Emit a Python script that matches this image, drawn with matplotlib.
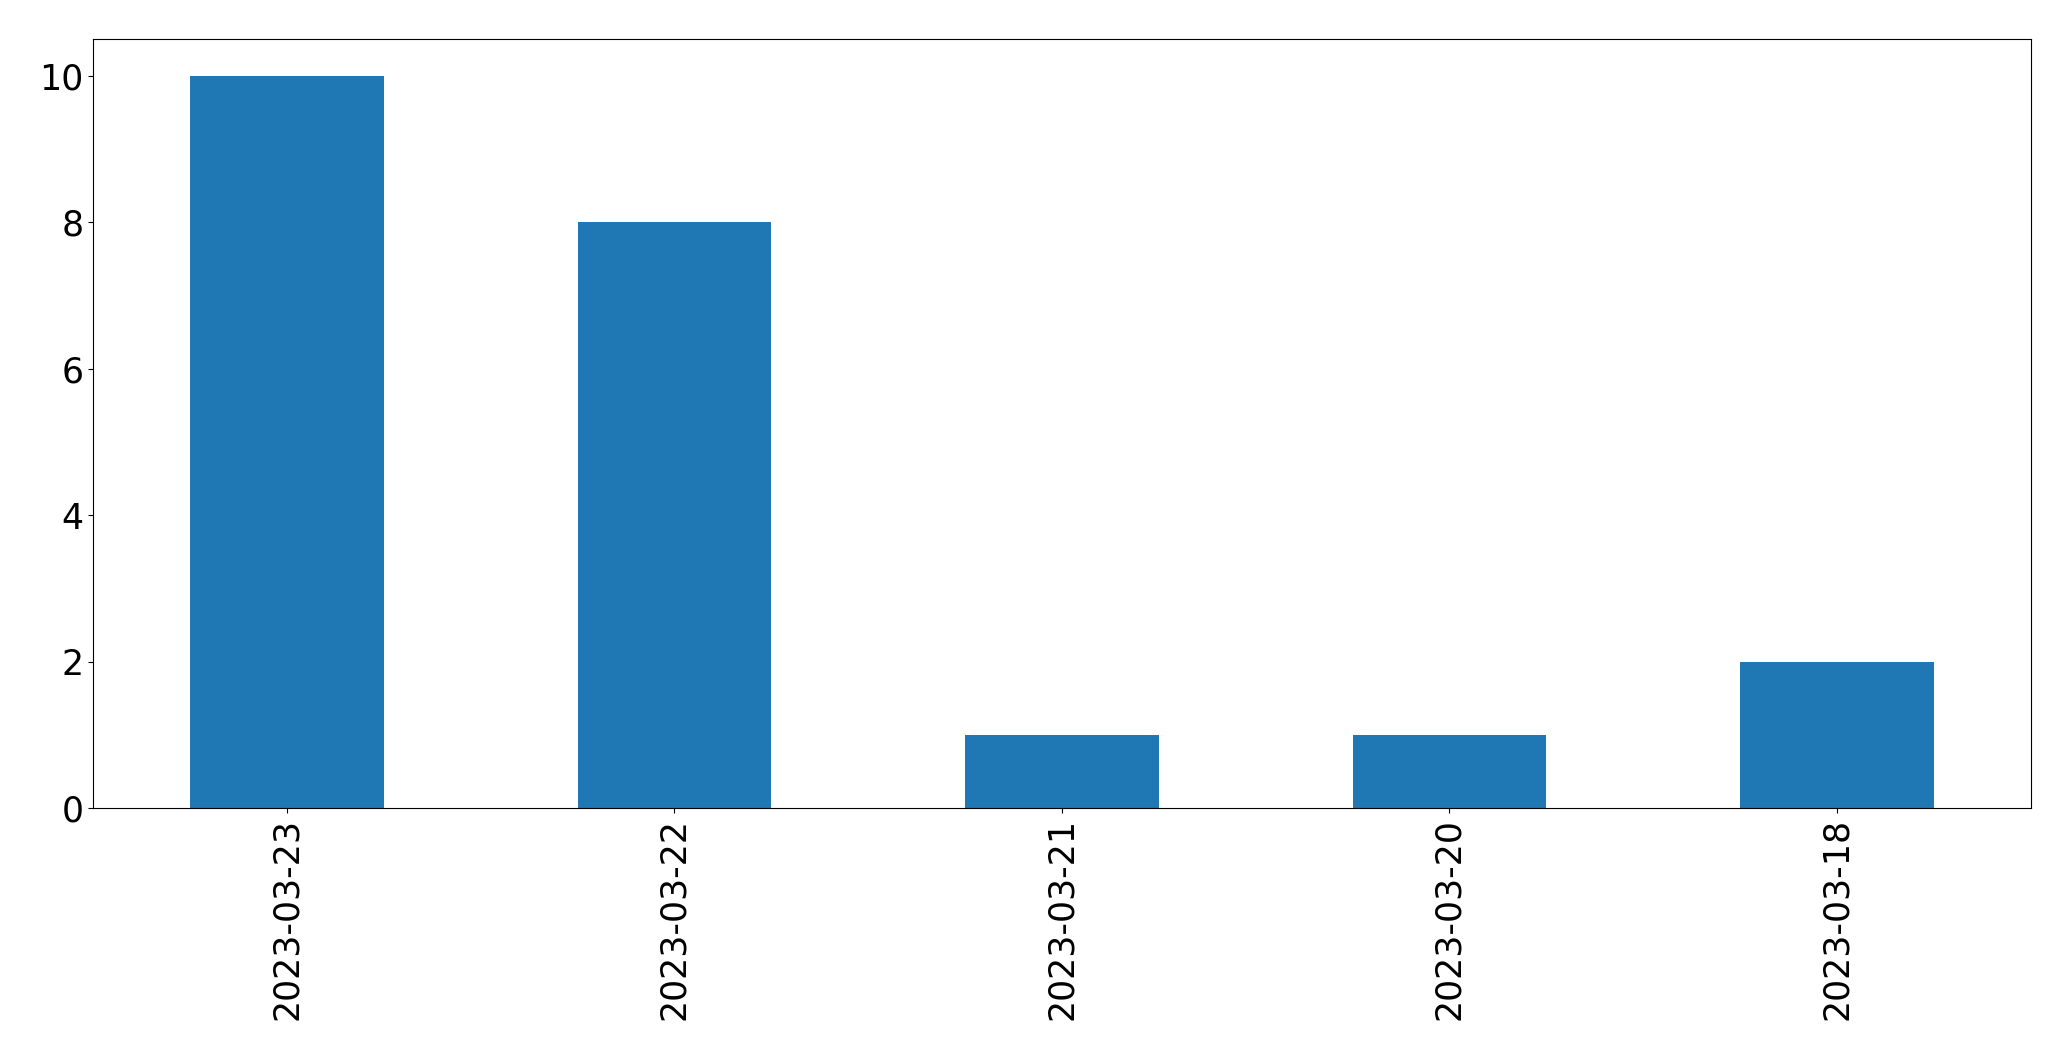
import matplotlib
matplotlib.use("Agg")
import matplotlib.pyplot as plt

dates = ["2023-03-23", "2023-03-22", "2023-03-21", "2023-03-20", "2023-03-18"]
counts = [10, 8, 1, 1, 2]


def plot_counts():
    fig, ax = plt.subplots(figsize=(20.71, 10.61), dpi=100)
    pos = list(range(len(dates)))
    ax.bar(pos, counts, width=0.5, color="#1f77b4")
    ax.set_xlim(-0.5, len(dates) - 0.5)
    ax.set_xticks(pos)
    ax.set_xticklabels(dates, rotation=90)
    ax.tick_params(axis="both", labelsize=25)

    fig.subplots_adjust(left=0.0450, right=0.9805, top=0.9630, bottom=0.2380)
    fig.savefig("out.png")


if __name__ == "__main__":
    plot_counts()
